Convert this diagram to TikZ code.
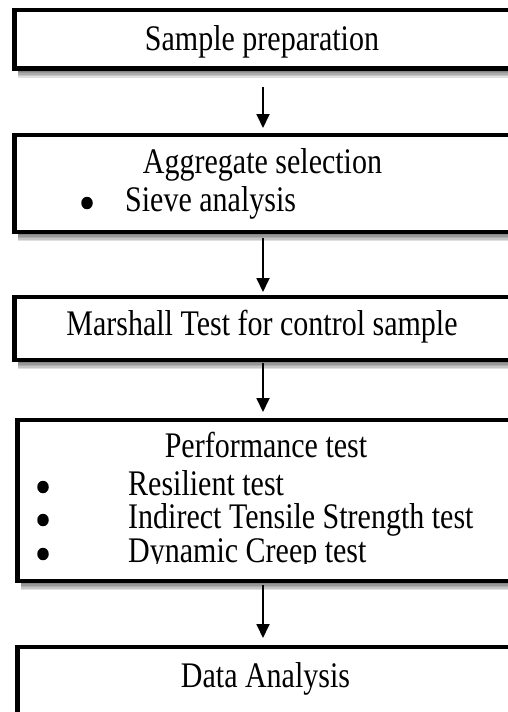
\documentclass[tikz,border=0pt]{standalone}
\usepackage{fontspec}
\usepackage{graphicx}
\setmainfont{Liberation Serif}
\usetikzlibrary{arrows.meta,backgrounds,shapes.geometric}
% text is set slightly taller than wide
\newcommand\tallbox[1]{\scalebox{1}[1.2]{#1}}
\begin{document}
\begin{tikzpicture}[x=1pt,y=-1pt,
  stage/.style={draw=black, line width=4.6pt, fill=white, inner sep=0pt, outer sep=0pt},
  txt/.style={inner sep=0pt, anchor=base, font=\fontsize{30}{36}\selectfont},
  itemtxt/.style={txt, anchor=base west},
  dot/.style={ellipse, fill=black, inner sep=0pt, minimum width=11.5pt, minimum height=12.5pt},
  flow/.style={line width=1.8pt, -{Triangle[width=13pt,length=14pt]}},
  shade/.style={fill=black, opacity=0.12}]
\useasboundingbox (0,0) rectangle (508,712);
\coordinate (axis) at (263,0);

% process boxes
\node[stage, minimum width=497pt, minimum height=58.5pt] (b1) at (263,39.25) {};
\node[stage, minimum width=497pt, minimum height=97pt] (b2) at (263,183.5) {};
\node[stage, minimum width=497pt, minimum height=63pt] (b3) at (263,328.5) {};
\node[stage, minimum width=497pt, minimum height=161pt] (b4) at (266,500.5) {};
\node[stage, minimum width=497pt, minimum height=67pt] (b5) at (266,680.5) {};

% soft shadows under the boxes
\begin{scope}[on background layer]
  \foreach \b in {b1,b2,b3,b4,b5}
    \foreach \d in {1.5,3,4.5,6,7.5,9}
      \fill[shade] ([xshift=3pt,yshift=-\d pt]\b.south west) rectangle ([xshift=3pt,yshift=-\d pt]\b.north east);
\end{scope}

% labels
\node[txt] (t1) at (262,50) {\tallbox{Sample preparation}};

\node[txt] (t2) at (262.5,173) {\tallbox{Aggregate selection}};
\node[dot] (d2) at (87,203) {};
\node[itemtxt] (i2) at (125,211) {\tallbox{Sieve analysis}};

\node[txt] (t3) at (262,335) {\tallbox{Marshall Test for control sample}};

\node[txt] (t4) at (266,457) {\tallbox{Performance test}};
\node[dot] (d41) at (43,487) {};
\node[itemtxt] (i41) at (128,495) {\tallbox{Resilient test}};
\node[dot] (d42) at (43,520) {};
\node[itemtxt] (i42) at (128,528) {\tallbox{Indirect Tensile Strength test}};
\begin{scope}
  \clip (0,420) rectangle (508,563.5);
  \node[dot] (d43) at (43,554) {};
  \node[itemtxt] (i43) at (128,562) {\tallbox{Dynamic Creep test}};
\end{scope}

\node[txt] (t5) at (265.5,687) {\tallbox{Data Analysis}};

% connectors
\draw[flow, shorten <=18.5pt, shorten >=7pt] (b1.south -| axis) -- (b2.north -| axis);
\draw[flow, shorten <=6pt, shorten >=5pt] (b2.south -| axis) -- (b3.north -| axis);
\draw[flow, shorten <=3pt, shorten >=8pt] (b3.south -| axis) -- (b4.north -| axis);
\draw[flow, shorten <=4pt, shorten >=9pt] (b4.south -| axis) -- (b5.north -| axis);
\end{tikzpicture}
\end{document}
